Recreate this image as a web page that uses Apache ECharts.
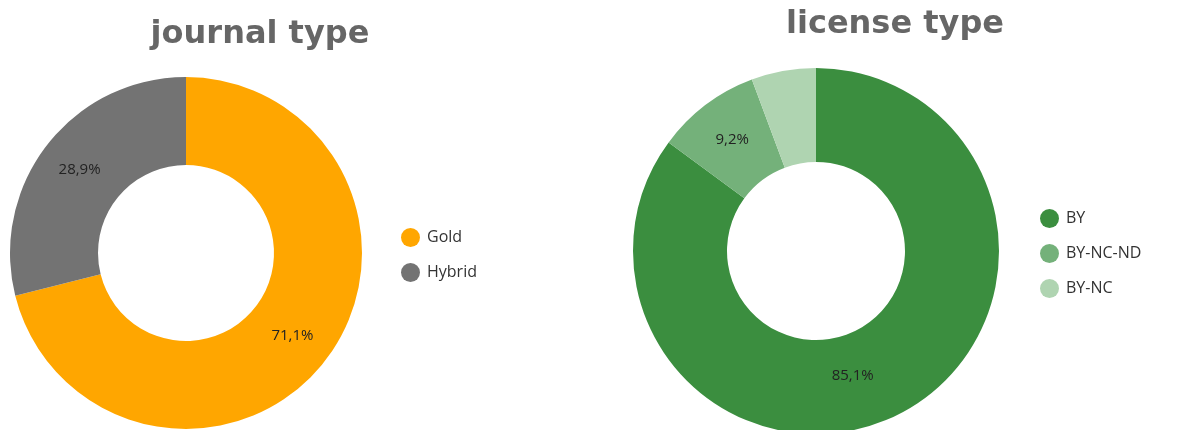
<!DOCTYPE html>
<html>
<head>
<meta charset="utf-8">
<script src="https://cdn.jsdelivr.net/npm/echarts@6/dist/echarts.min.js"></script>
<style>
  html, body { margin: 0; padding: 0; background: #fff; }
</style>
</head>
<body>
<!-- two donuts side by side -->
<div id="myChart" style="width:1178px;height:430px;"></div>
<script>
// journal type
var journalNames = ['Gold', 'Hybrid'];
var journalValues = [71.1, 28.9];
var journalColors = ['#FFA600', '#737373'];

// license type
var licenseNames = ['BY', 'BY-NC-ND', 'BY-NC'];
var licenseValues = [85.1, 9.2, 5.7];
var licenseColors = ['#3B8E3F', '#74B17A', '#AFD4B1'];

function pctLabel(p) {
  // small slices get no label, decimal comma like the original
  if (p.value < 7) return '';
  return p.value.toFixed(1).replace('.', ',') + '%';
}

function toData(names, values, colors) {
  return names.map(function (n, i) {
    return { name: n, value: values[i], itemStyle: { color: colors[i] } };
  });
}

var licenseData = toData(licenseNames, licenseValues, licenseColors);
// nudge the big label a bit toward the bottom like the source tool does
licenseData[0].label = { offset: [-26, 1] };

var labelStyle = {
  show: true,
  position: 'inside',
  formatter: pctLabel,
  color: '#222',
  fontFamily: 'Open Sans',
  fontSize: 15
};

var legendText = { color: '#333', fontFamily: 'Open Sans', fontSize: 16, padding: [0, 0, 0, 2] };

var titleText = { color: '#666', fontFamily: 'DejaVu Sans', fontWeight: 'bold', fontSize: 32 };

var myChart = echarts.init(document.getElementById('myChart'));
myChart.setOption({
  animation: false,
  title: [{
    text: 'journal type',
    left: 255,
    top: 14,
    textAlign: 'center',
    textStyle: titleText
  }, {
    text: 'license type',
    left: 890,
    top: 4,
    textAlign: 'center',
    textStyle: titleText
  }],
  legend: [{
    data: journalNames,
    orient: 'vertical',
    left: 396,
    top: 223,
    icon: 'circle',
    itemWidth: 19,
    itemHeight: 19,
    itemGap: 16,
    textStyle: legendText
  }, {
    data: licenseNames,
    orient: 'vertical',
    left: 1035,
    top: 204,
    icon: 'circle',
    itemWidth: 19,
    itemHeight: 19,
    itemGap: 16,
    textStyle: legendText
  }],
  series: [{
    name: 'journal type',
    type: 'pie',
    center: [186, 253],
    radius: [88, 176],
    startAngle: 90,
    label: labelStyle,
    labelLine: { show: false },
    emphasis: { disabled: true },
    data: toData(journalNames, journalValues, journalColors)
  }, {
    name: 'license type',
    type: 'pie',
    center: [816, 251],
    radius: [89, 183],
    startAngle: 90,
    label: labelStyle,
    labelLine: { show: false },
    emphasis: { disabled: true },
    data: licenseData
  }]
});
</script>
</body>
</html>
